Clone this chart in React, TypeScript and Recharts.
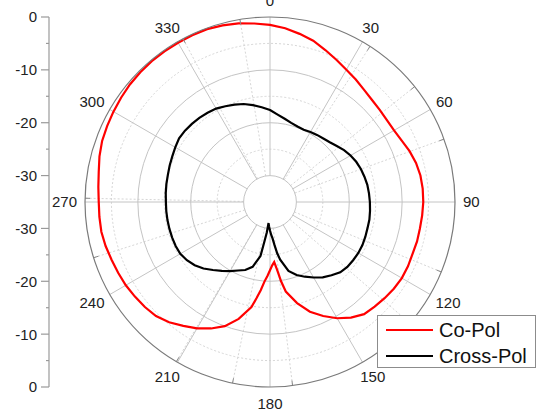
import React from 'react';
import {
  RadarChart,
  Radar,
  PolarGrid,
  PolarAngleAxis,
  PolarRadiusAxis,
  LineChart,
  XAxis,
  YAxis,
} from 'recharts';

// angle in degrees, clockwise from top
const angles = [
  0, 5, 10, 15, 20, 25, 30, 35, 40, 45, 50, 55, 60, 65, 70, 75, 80, 85, 90, 95,
  100, 105, 110, 115, 120, 125, 130, 135, 140, 145, 150, 155, 160, 165, 170,
  172, 174, 176, 178, 180, 182, 184, 186, 188, 190, 195, 200, 205, 210, 215,
  220, 225, 230, 235, 240, 245, 250, 255, 260, 265, 270, 275, 280, 285, 290,
  295, 300, 305, 310, 315, 320, 325, 330, 335, 340, 345, 350, 355,
];

// dB
const coPol = [
  -1.5, -2.0, -2.7, -3.4, -4.4, -5.3, -6.1, -6.7, -7.3, -7.7, -7.9, -8.0, -7.9,
  -7.5, -6.9, -6.4, -6.1, -6.0, -6.0, -6.1, -6.2, -6.2, -6.3, -6.2, -6.2, -6.4,
  -6.7, -7.0, -7.3, -8.3, -9.6, -11.2, -12.9, -15.2, -17.8, -19.8, -22.1, -23.6,
  -23.0, -22.1, -21.0, -19.9, -18.2, -16.6, -14.8, -12.1, -10.0, -8.6, -7.4,
  -6.4, -5.3, -4.5, -4.1, -3.8, -3.5, -3.3, -3.1, -2.8, -2.6, -2.6, -2.6, -2.4,
  -2.1, -1.6, -1.2, -1.0, -0.8, -0.6, -0.4, -0.3, -0.2, -0.2, -0.2, -0.2, -0.2,
  -0.4, -0.7, -1.1,
];

const crossPol = [
  -17.6, -18.4, -19.0, -19.5, -19.8, -19.9, -19.7, -19.5, -19.3, -19.0, -18.5,
  -17.9, -17.4, -17.0, -16.7, -16.5, -16.3, -16.2, -16.1, -16.0, -15.9, -15.9,
  -15.8, -15.7, -15.7, -15.8, -15.9, -16.2, -16.9, -17.6, -18.5, -19.4, -20.3,
  -21.5, -23.9, -25.2, -26.8, -28.1, -28.8, -29.6, -30.3, -31.0, -29.2, -27.5,
  -24.6, -22.3, -21.3, -20.7, -19.9, -19.1, -18.2, -17.2, -16.4, -15.8, -15.4,
  -15.3, -15.3, -15.3, -15.3, -15.3, -15.3, -15.2, -15.1, -15.0, -14.8, -14.6,
  -14.3, -14.0, -14.0, -14.1, -14.2, -14.4, -14.6, -15.0, -15.4, -15.8, -16.4,
  -17.0,
];

const seriesKeys = ['copol', 'crosspol'];
const seriesNames = ['Co-Pol', 'Cross-Pol'];
const seriesColors = ['#ff0000', '#000000'];

const majorAngleTicks = [0, 30, 60, 90, 120, 150, 180, 210, 240, 270, 300, 330];
const minorAngleTicks = [15, 45, 75, 105, 135, 165, 195, 225, 255, 285, 315, 345];
const majorRadiusTicks = [-30, -20, -10];
const minorRadiusTicks = [-25, -15, -5];
const radiusDomain = [-30, 0];

// left scale: distance from top of the plot in dB steps (0 top, 35 centre, 70 bottom)
const leftAxisTicks = [0, 5, 10, 15, 20, 25, 30, 40, 45, 50, 55, 60, 65, 70];
const leftAxisDomain = [0, 70];

const data = angles.map((angle, i) => ({
  angle,
  copol: coPol[i],
  crosspol: crossPol[i],
}));

const FONT = 'Arial, "Liberation Sans", sans-serif';

const AngleTick = (props: any) => {
  const { x, y, payload } = props;
  const v = Number(payload.value);
  const rad = (v * Math.PI) / 180;
  const dx = Math.sin(rad);
  const dy = -Math.cos(rad);
  const fs = 15;
  const label = String(v);
  const w = label.length * 0.556 * fs;
  const h = 0.716 * fs;
  const tx = x + dx * (7 + w / 2);
  const ty = y + dy * (10 + h / 2);
  return (
    <text x={tx} y={ty + h / 2} textAnchor="middle" fontSize={fs} fontFamily={FONT} fill="#222">
      {label}
    </text>
  );
};

const leftLabel = (pos: number) => {
  const db = pos <= 35 ? -pos : pos - 70;
  return db === 0 ? '0' : String(db);
};

const LeftTick = (props: any) => {
  const { x, y, payload } = props;
  const pos = Number(payload.value);
  const major = pos % 10 === 0;
  const len = major ? 8 : 3;
  return (
    <g>
      <line x1={x - len} y1={y} x2={x} y2={y} stroke="#9a9a9a" strokeWidth={1.2} />
      {major && (
        <text x={x - 12} y={y} dy="0.36em" textAnchor="end" fontSize={15} fontFamily={FONT} fill="#222">
          {leftLabel(pos)}
        </text>
      )}
    </g>
  );
};

export default function App() {
  return (
    <div style={{ position: 'absolute', left: 0, top: 0, width: 539, height: 412, background: '#fff', overflow: 'hidden' }}>
      <div style={{ position: 'absolute', left: 0, top: 0 }}>
        <RadarChart
          width={539}
          height={412}
          data={data}
          cx={270}
          cy={202}
          innerRadius={26.4}
          outerRadius={185}
          startAngle={90}
          endAngle={-270}
          margin={{ top: 0, right: 0, bottom: 0, left: 0 }}
        >
          <PolarRadiusAxis
            type="number"
            domain={radiusDomain}
            allowDataOverflow
            ticks={majorRadiusTicks}
            tick={false}
            axisLine={false}
          />
          <PolarRadiusAxis
            radiusAxisId="minor"
            type="number"
            domain={radiusDomain}
            allowDataOverflow
            ticks={minorRadiusTicks}
            tick={false}
            axisLine={false}
          />
          <PolarAngleAxis
            angleAxisId="minor"
            type="number"
            domain={[0, 360]}
            ticks={minorAngleTicks}
            tick={false}
            axisLine={false}
            tickLine={{ stroke: '#8a8a8a' }}
            orientation="inner"
            tickSize={5}
          />
          <PolarGrid
            gridType="circle"
            angleAxisId="minor"
            radiusAxisId="minor"
            stroke="#d6d6d6"
            strokeDasharray="2 2"
          />
          <PolarGrid gridType="circle" stroke="#c4c4c4" />
          <PolarAngleAxis
            dataKey="angle"
            type="number"
            domain={[0, 360]}
            ticks={majorAngleTicks}
            tick={AngleTick}
            tickLine={false}
            tickSize={1}
            axisLineType="circle"
            axisLine={{ stroke: '#7a7a7a', strokeWidth: 1.2 }}
          />
          {seriesKeys.map((k, i) => (
            <Radar
              key={k}
              dataKey={k}
              name={seriesNames[i]}
              stroke={seriesColors[i]}
              strokeWidth={2.2}
              fill="none"
              fillOpacity={0}
              dot={false}
              isAnimationActive={false}
            />
          ))}
        </RadarChart>
      </div>
      <div style={{ position: 'absolute', left: 0, top: 0 }}>
        <LineChart width={60} height={412} data={data} margin={{ top: 17, right: 0, bottom: 25, left: 0 }}>
          <XAxis hide />
          <YAxis
            type="number"
            domain={leftAxisDomain}
            allowDataOverflow
            reversed
            ticks={leftAxisTicks}
            interval={0}
            width={49}
            axisLine={{ stroke: '#9a9a9a', strokeWidth: 1.2 }}
            tickLine={false}
            tickSize={0}
            tickMargin={0}
            tick={LeftTick}
          />
        </LineChart>
      </div>
      <svg style={{ position: 'absolute', left: 377, top: 315 }} width={160} height={54}>
        <rect x={0.5} y={0.5} width={158} height={52} fill="#fff" stroke="#8c8c8c" strokeWidth={1} />
        {seriesNames.map((name, i) => (
          <g key={name}>
            <line x1={9} x2={56} y1={15 + i * 26} y2={15 + i * 26} stroke={seriesColors[i]} strokeWidth={2.2} />
            <text x={62} y={22 + i * 26} fontSize={20} fontFamily={FONT} fill="#111">
              {name}
            </text>
          </g>
        ))}
      </svg>
    </div>
  );
}
